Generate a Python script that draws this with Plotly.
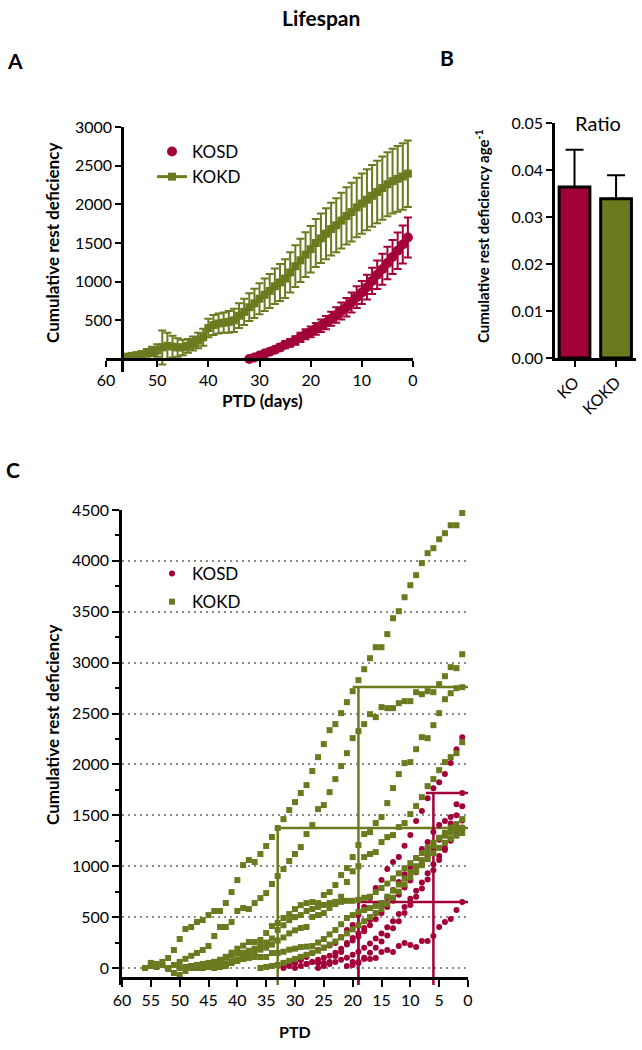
import plotly.graph_objects as go

W, H = 642, 1050
RED = "#A3003A"
OLIVE = "#6B7A1E"
FONT = "Lato"

# ---------------- Panel A: mean +/- SEM ----------------
a_kokd_start = 56
a_kokd_mean = [30, 40, 50, 60, 80, 100, 110, 150, 170, 160, 150, 150, 170, 200, 240, 280,
               400, 440, 460, 470, 480, 500, 560, 610, 670, 720, 780, 830, 880, 940, 990,
               1040, 1120, 1200, 1276, 1350, 1420, 1500, 1560, 1620, 1680, 1730, 1790, 1850,
               1900, 1960, 2010, 2060, 2110, 2160, 2210, 2260, 2300, 2330, 2360, 2397]
a_kokd_sem = [25, 30, 35, 40, 50, 60, 80, 220, 170, 140, 120, 100, 90, 90, 100, 110,
              120, 130, 130, 130, 140, 150, 160, 170, 180, 190, 200, 210, 220, 230, 240,
              250, 260, 270, 280, 290, 300, 310, 320, 330, 340, 350, 360, 370, 380, 385,
              390, 395, 400, 405, 410, 415, 420, 425, 430, 430]
a_kosd_start = 32
a_kosd_mean = [0, 20, 45, 70, 95, 120, 150, 185, 210, 240, 280, 320, 350, 390, 430, 470,
               520, 570, 620, 670, 730, 800, 860, 928, 1010, 1090, 1160, 1240, 1320, 1400,
               1480, 1572]
a_kosd_sem = [10, 15, 20, 25, 30, 35, 40, 45, 50, 55, 60, 65, 70, 75, 80, 85, 90, 100,
              110, 120, 130, 140, 150, 160, 170, 185, 200, 210, 220, 235, 245, 258]
a_xticks = [60, 50, 40, 30, 20, 10, 0]
a_yticks = [500, 1000, 1500, 2000, 2500, 3000]

# ---------------- Panel B: ratio bars ----------------
b_groups = ["KO", "KOKD"]
b_ratio = [0.0364, 0.0339]
b_err = [0.0079, 0.0050]
b_yticks = [0.00, 0.01, 0.02, 0.03, 0.04, 0.05]

# ---------------- Panel C: individual animals ----------------
kokd_starts = [56, 52, 48, 46, 56, 50, 36]
kokd_1 = [0, 20, 10, 29, 98, 177, 285, 383, 403, 452, 471, 520, 560, 560, 638, 746, 864, 1011,
          1061, 1041, 1120, 1198, 1287, 1375, 1463, 1552, 1630, 1719, 1797, 1935, 2072, 2200,
          2337, 2396, 2504, 2612, 2720, 2828, 2936, 3044, 3152, 3152, 3280, 3437, 3506, 3643,
          3761, 3860, 3978, 4076, 4125, 4213, 4272, 4350, 4350, 4470]
kokd_2 = [0, 30, 60, 90, 120, 147, 177, 216, 314, 403, 403, 452, 560, 589, 579, 638, 687, 736,
          825, 903, 972, 1051, 1120, 1188, 1316, 1404, 1561, 1601, 1728, 1856, 1984, 2111, 2259,
          2327, 2396, 2494, 2465, 2563, 2553, 2553, 2602, 2622, 2622, 2710, 2690, 2720, 2710,
          2789, 2867, 2956, 2946, 3083]
kokd_3 = [0, 10, 20, 40, 60, 80, 110, 150, 190, 220, 255, 255, 275, 344, 412, 442, 491, 530,
          579, 618, 638, 648, 638, 717, 746, 815, 913, 982, 1090, 1208, 1316, 1335, 1424, 1483,
          1620, 1768, 1905, 2013, 2023, 2150, 2268, 2258, 2386, 2504, 2641, 2700, 2749, 2759]
kokd_4 = [0, 10, 20, 30, 40, 60, 80, 100, 120, 150, 180, 200, 230, 270, 300, 340, 370, 393,
          403, 501, 520, 540, 590, 628, 700, 845, 950, 1000, 1090, 1120, 1139, 1237, 1286, 1306,
          1385, 1424, 1512, 1591, 1679, 1787, 1856, 1944, 2023, 2072, 2111, 2219]
kokd_5 = [0, 50, 40, 60, -10, -49, -69, -29, 20, 0, 10, 10, 0, 10, 20, 49, 69, 88, 98, 108, 108,
          108, 147, 147, 160, 180, 190, 206, 210, 216, 250, 285, 330, 373, 430, 491, 520, 550,
          570, 589, 610, 638, 700, 760, 820, 880, 940, 1000, 1060, 1130, 1200, 1280, 1326, 1380,
          1414, 1463]
kokd_6 = [0, 10, 20, 30, 40, 50, 60, 80, 100, 120, 140, 150, 170, 190, 220, 250, 290, 373, 420,
          470, 500, 520, 560, 580, 600, 620, 640, 650, 650, 660, 660, 670, 690, 700, 746, 786,
          830, 880, 930, 980, 1030, 1080, 1130, 1180, 1230, 1277, 1300, 1330, 1360, 1375]
kokd_7 = [0, 10, 20, 30, 50, 70, 90, 110, 130, 150, 170, 200, 230, 260, 300, 340, 380, 420, 460,
          500, 540, 580, 630, 690, 750, 820, 890, 950, 1010, 1070, 1130, 1180, 1230, 1270, 1300,
          1326]
kokd_series = [kokd_1, kokd_2, kokd_3, kokd_4, kokd_5, kokd_6, kokd_7]

kosd_starts = [32, 32, 21, 30, 20, 26]
kosd_1 = [0, 20, 50, 80, 108, 147, 177, 200, 220, 245, 304, 373, 422, 520, 599, 687, 786, 864,
          972, 1041, 1090, 1200, 1306, 1444, 1542, 1669, 1767, 1826, 1905, 2013, 2150, 2268]
kosd_2 = [10, 29, 49, 79, 39, 59, 49, 49, 59, 118, 157, 245, 295, 340, 393, 471, 540, 599, 687,
          766, 845, 920, 992, 1080, 1169, 1237, 1336, 1404, 1444, 1483, 1610, 1720]
kosd_3 = [20, 59, 49, 88, 88, 98, 157, 177, 157, 216, 245, 226, 206, 265, 265, 314, 403, 452,
          481, 570, 648]
kosd_4 = [0, 20, 40, 60, 80, 100, 120, 150, 190, 230, 270, 310, 360, 420, 480, 540, 600, 660,
          720, 790, 860, 940, 1020, 1100, 1180, 1260, 1330, 1420, 1500, 1590]
kosd_5 = [30, 60, 100, 150, 200, 260, 320, 390, 460, 540, 620, 700, 780, 870, 960, 1060, 1160,
          1260, 1350, 1450]
kosd_6 = [0, 20, 40, 60, 80, 100, 130, 160, 200, 240, 290, 340, 400, 460, 530, 600, 680, 760,
          840, 930, 1020, 1100, 1180, 1250, 1310, 1380]
kosd_series = [kosd_1, kosd_2, kosd_3, kosd_4, kosd_5, kosd_6]

# guide lines (PTD of vertical, level reached, PTD where horizontal starts)
guide_olive_ptd = [33.0, 19.0]
guide_olive_level = [1375, 2760]
guide_olive_hstart = [33.0, 20.0]
guide_red_ptd = [19.0, 6.0]
guide_red_level = [648, 1720]
guide_red_hstart = [19.0, 7.3]

c_xticks = [60, 55, 50, 45, 40, 35, 30, 25, 20, 15, 10, 5, 0]
c_yticks = [0, 500, 1000, 1500, 2000, 2500, 3000, 3500, 4000, 4500]
c_yminor = [250, 750, 1250, 1750, 2250, 2750, 3250, 3750, 4250]
C_YMIN = -167


def px(x):
    return x / W


def py(y):
    return 1 - y / H


def days(start, n):
    return list(range(start, start - n, -1))


fig = go.Figure()

# Panel A traces
fig.add_trace(go.Scatter(
    x=days(a_kokd_start, len(a_kokd_mean)), y=a_kokd_mean, mode="lines+markers",
    name="KOKD", legend="legend", legendrank=2,
    line=dict(color=OLIVE, width=3),
    marker=dict(symbol="square", size=8, color=OLIVE),
    error_y=dict(type="data", array=a_kokd_sem, color=OLIVE, thickness=2, width=4),
    xaxis="x", yaxis="y", cliponaxis=False))
fig.add_trace(go.Scatter(
    x=days(a_kosd_start, len(a_kosd_mean)), y=a_kosd_mean, mode="markers",
    name="KOSD", legend="legend", legendrank=1,
    marker=dict(symbol="circle", size=10, color=RED),
    error_y=dict(type="data", array=a_kosd_sem, color=RED, thickness=2, width=4),
    xaxis="x", yaxis="y", cliponaxis=False))

# Panel B
fig.add_trace(go.Bar(
    x=[0, 1], y=b_ratio, width=0.74,
    marker=dict(color=[RED, OLIVE], line=dict(color="black", width=3)),
    error_y=dict(type="data", symmetric=False, array=b_err, arrayminus=[0, 0],
                 color="black", thickness=2, width=9),
    showlegend=False, xaxis="x2", yaxis="y2"))

# Panel C guide lines
for gx, lvl, hs in zip(guide_olive_ptd, guide_olive_level, guide_olive_hstart):
    fig.add_trace(go.Scatter(x=[gx, gx, None, hs, 0], y=[C_YMIN, lvl, None, lvl, lvl],
                             mode="lines", line=dict(color=OLIVE, width=2.5),
                             showlegend=False, hoverinfo="skip", xaxis="x3", yaxis="y3"))
for gx, lvl, hs in zip(guide_red_ptd, guide_red_level, guide_red_hstart):
    fig.add_trace(go.Scatter(x=[gx, gx, None, hs, 0], y=[C_YMIN, lvl, None, lvl, lvl],
                             mode="lines", line=dict(color=RED, width=2.5),
                             showlegend=False, hoverinfo="skip", xaxis="x3", yaxis="y3"))

# Panel C points
for i, (s, vals) in enumerate(zip(kosd_starts, kosd_series)):
    fig.add_trace(go.Scatter(x=days(s, len(vals)), y=vals, mode="markers", name="KOSD",
                             legend="legend2", legendgroup="kosd", legendrank=1,
                             showlegend=(i == 0),
                             marker=dict(symbol="circle", size=6, color=RED),
                             xaxis="x3", yaxis="y3", cliponaxis=False))
for i, (s, vals) in enumerate(zip(kokd_starts, kokd_series)):
    fig.add_trace(go.Scatter(x=days(s, len(vals)), y=vals, mode="markers", name="KOKD",
                             legend="legend2", legendgroup="kokd", legendrank=2,
                             showlegend=(i == 0),
                             marker=dict(symbol="square", size=6, color=OLIVE),
                             xaxis="x3", yaxis="y3", cliponaxis=False))

axis_common = dict(showline=True, linecolor="black", linewidth=2.5, ticks="outside",
                   tickcolor="black", tickwidth=2, showgrid=False, zeroline=False,
                   automargin=False,
                   tickfont=dict(family=FONT, size=16, color="black"))

fig.update_layout(
    width=W, height=H, margin=dict(l=0, r=0, t=0, b=0, autoexpand=False),
    paper_bgcolor="white", plot_bgcolor="white",
    font=dict(family=FONT, color="black"),
    xaxis=dict(domain=[px(106), px(413)], range=[60, 0], anchor="free", position=py(359),
               tickmode="array", tickvals=a_xticks, ticklen=6, **axis_common),
    yaxis=dict(domain=[py(372), py(127)], range=[-168, 3000], anchor="free", position=px(122),
               tickmode="array", tickvals=a_yticks, ticklen=6, **axis_common),
    xaxis2=dict(domain=[px(555), px(636)], range=[-0.47, 1.48], anchor="y2",
                tickmode="array", tickvals=[0, 1], ticktext=b_groups, tickangle=-45,
                ticklen=6, **axis_common),
    yaxis2=dict(domain=[py(358), py(123)], range=[0, 0.05], anchor="x2",
                tickmode="array", tickvals=b_yticks,
                ticktext=["%.2f" % v for v in b_yticks], ticklen=6, **axis_common),
    xaxis3=dict(domain=[px(122), px(468)], range=[60, 0], anchor="free", position=py(978),
                tickmode="array", tickvals=c_xticks, ticklen=7, **axis_common),
    yaxis3=dict(domain=[py(985), py(510)], range=[C_YMIN, 4500], anchor="x3",
                tickmode="array", tickvals=c_yticks, ticklen=7, automargin=False,
                showline=True, linecolor="black", linewidth=2.5, ticks="outside",
                tickcolor="black", tickwidth=2, zeroline=False,
                tickfont=dict(family=FONT, size=16, color="black"),
                showgrid=True, gridcolor="#8c8c8c", gridwidth=2, griddash="2px,4px",
                minor=dict(tickmode="array", tickvals=c_yminor, ticks="outside", ticklen=4,
                           tickwidth=2, tickcolor="black", showgrid=False)),
    legend=dict(x=px(152), y=py(134), xanchor="left", yanchor="top", bgcolor="rgba(0,0,0,0)",
                font=dict(family=FONT, size=17, color="black"), traceorder="grouped",
                tracegroupgap=6, itemwidth=30),
    legend2=dict(x=px(152), y=py(556), xanchor="left", yanchor="top", bgcolor="rgba(0,0,0,0)",
                 font=dict(family=FONT, size=17, color="black"), traceorder="grouped",
                 tracegroupgap=3, itemwidth=30),
    showlegend=True,
)

ann = []


def add_text(text, x, y, size, angle=0, bold=False):
    ann.append(dict(text=("<b>%s</b>" % text) if bold else text, x=px(x), y=py(y),
                    xref="paper", yref="paper", showarrow=False, textangle=angle,
                    xanchor="center", yanchor="middle",
                    font=dict(family=FONT, size=size, color="black")))


add_text("Lifespan", 321, 17, 21, bold=True)
add_text("A", 15, 60, 21, bold=True)
add_text("B", 447, 58, 21, bold=True)
add_text("C", 13, 470, 21, bold=True)
add_text("Cumulative rest deficiency", 52, 243, 17, angle=-90, bold=True)
add_text("PTD (days)", 262, 400, 17, bold=True)
add_text("Cumulative rest deficiency age<sup>-1</sup>", 483, 236, 15, angle=-90, bold=True)
add_text("Ratio", 598, 123, 20)
add_text("Cumulative rest deficiency", 52, 725, 17, angle=-90, bold=True)
add_text("PTD", 295, 1031, 16, bold=True)
fig.update_layout(annotations=ann)

fig.write_html("out.html",
               config={"displayModeBar": False},
               post_script="document.body.style.margin='0';document.body.style.padding='0';"
                           "document.documentElement.style.overflow='hidden';")
